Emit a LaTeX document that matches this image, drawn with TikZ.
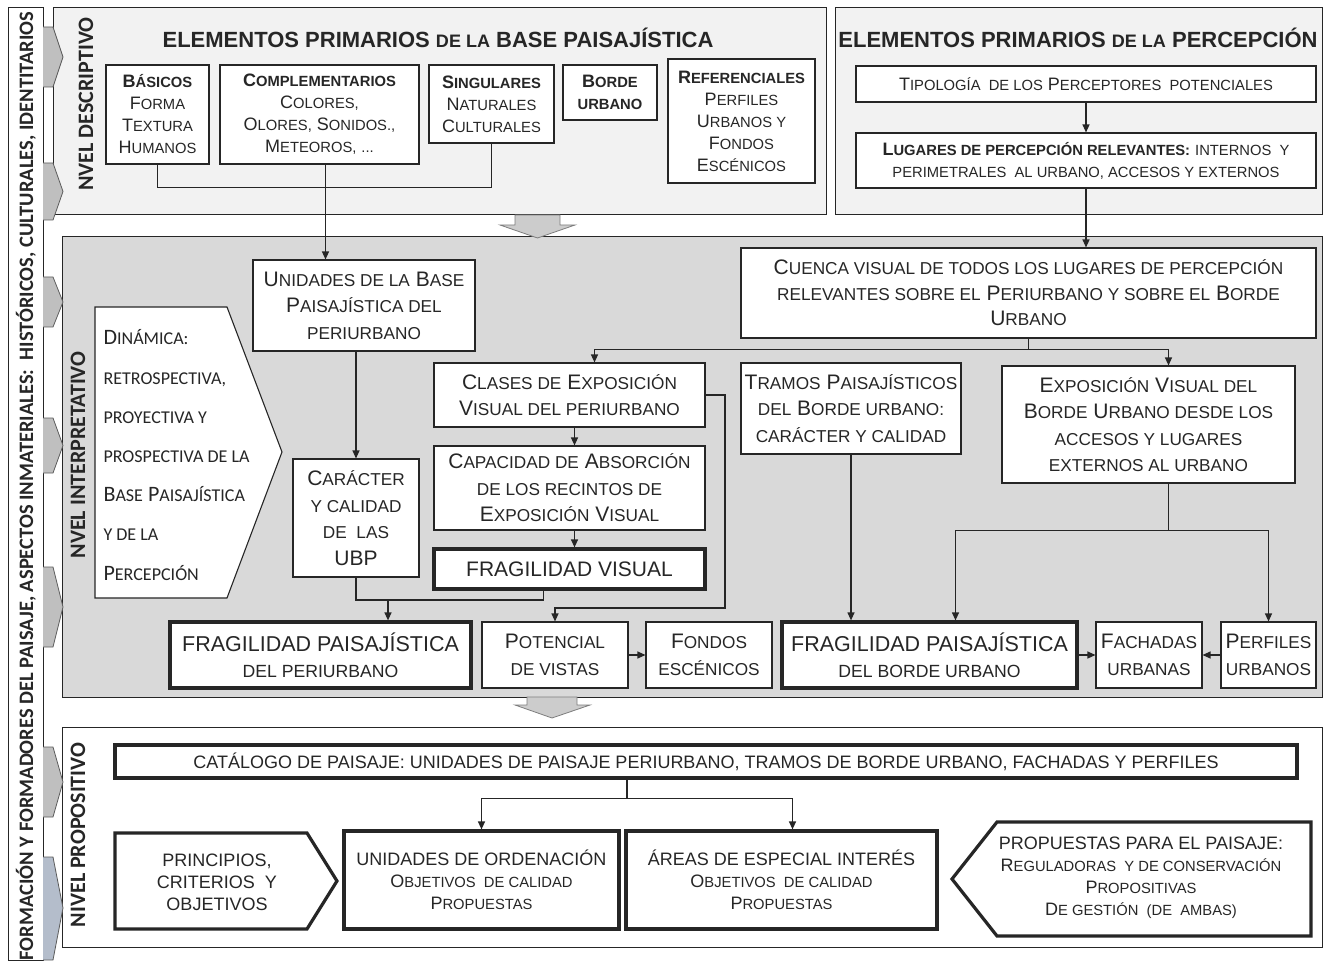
\documentclass[tikz,border=0pt]{standalone}
\usepackage{fontspec}
\setmainfont{Liberation Sans}
\newfontfamily\calfont{Carlito}
\usetikzlibrary{arrows.meta}
\definecolor{ink}{HTML}{262626}
\definecolor{panelgray}{HTML}{F2F2F2}
\definecolor{interpgray}{HTML}{D9D9D9}
\definecolor{arrowgray}{HTML}{BFBFBF}
\definecolor{arrowblue}{HTML}{B4BDCB}
% lower case letters as small capitals
\makeatletter
\newcommand\lsc[1]{{\fontsize{\strip@pt\dimexpr\f@size pt*82/100\relax}{\baselineskip}\selectfont\MakeUppercase{#1}}}
\makeatother

\begin{document}
\begin{tikzpicture}[x=1pt, y=-1pt,
    every node/.style={text=ink},
    box/.style={draw=ink, line width=1.1pt, fill=white, inner sep=0pt, align=center},
    boldbox/.style={box, line width=3.2pt},
    outline/.style={draw=ink, line width=1.1pt, fill=white},
    boldoutline/.style={outline, line width=3.2pt},
    link/.style={draw=ink, line width=1.2pt},
    arrow/.style={link, -{Triangle[length=8pt,width=7pt]}},
    descfont/.style={font=\fontsize{18}{22}\selectfont},
    intfont/.style={font=\fontsize{21}{26.5}\selectfont},
    propfont/.style={font=\fontsize{18}{22}\selectfont},
    levellabel/.style={rotate=90, font=\calfont\bfseries\fontsize{22}{22}\selectfont},
    sidearrow/.style={fill=arrowgray, draw=ink!75, line width=0.8pt},
    blockarrow/.style={fill=arrowgray!80, draw=ink!60, line width=0.8pt}]

    \useasboundingbox (0,0) rectangle (1325,965);

    % Level panels
    \filldraw[fill=panelgray, draw=ink, line width=1pt] (53,8) rectangle (826,215);
    \filldraw[fill=panelgray, draw=ink, line width=1pt] (835,8) rectangle (1322,215);
    \filldraw[fill=interpgray, draw=ink, line width=1pt] (62,237) rectangle (1322,697);
    \filldraw[fill=white, draw=ink, line width=1pt] (62,727) rectangle (1322,947);

    % Side strip
    \draw[ink, line width=1pt] (8,8) rectangle (43,960);
    \foreach \ya/\yb in {27/87, 163/220, 277/327, 418/473, 567/647, 747/817}
        \filldraw[sidearrow] (43,\ya) -- (53,\ya) -- (63,{(\ya+\yb)/2}) -- (53,\yb) -- (43,\yb);
    \filldraw[sidearrow, fill=arrowblue] (43,857) -- (53,857) -- (63,908) -- (53,960) -- (43,960);
    \node[rotate=90, font=\calfont\bfseries\fontsize{20.5}{20.5}\selectfont] (striplabel) at (26,486)
        {FORMACIÓN Y FORMADORES DEL PAISAJE, ASPECTOS INMATERIALES:\ \ HISTÓRICOS, CULTURALES, IDENTITARIOS};

    % Level labels
    \node[levellabel] (lvdesc) at (86,104) {NVEL DESCRIPTIVO};
    \node[levellabel] (lvint) at (78,455) {NVEL INTERPRETATIVO};
    \node[levellabel] (lvprop) at (78,835) {NIVEL PROPOSITIVO};

    % Block arrows between levels
    \filldraw[blockarrow] (515,215) -- (560,215) -- (560,225) -- (575,225) -- (537.5,238) -- (500,225) -- (515,225) -- cycle;
    \filldraw[blockarrow] (527,697) -- (577,697) -- (577,705) -- (590,705) -- (552,718) -- (515,705) -- (527,705) -- cycle;

    % Descriptive level
    \node[font=\bfseries\fontsize{22}{22}\selectfont] (titlebase) at (438,38) {ELEMENTOS PRIMARIOS \lsc{de la} BASE PAISAJÍSTICA};
    \node[font=\bfseries\fontsize{22}{22}\selectfont] (titleperc) at (1078,38) {ELEMENTOS PRIMARIOS \lsc{de la} PERCEPCIÓN};

    \node[box, descfont, minimum width=103pt, minimum height=99pt] (basicos) at (157.5,114.5)
        {\textbf{B\lsc{ásicos}}\\ F\lsc{orma}\\ T\lsc{extura}\\ H\lsc{umanos}};
    \node[box, descfont, minimum width=199pt, minimum height=99pt] (complem) at (319.5,114.5)
        {\textbf{C\lsc{omplementarios}}\\ C\lsc{olores,}\\ O\lsc{lores,}\ S\lsc{onidos.,}\\ M\lsc{eteoros,}\ \lsc{...}};
    \node[box, descfont, minimum width=125pt, minimum height=78pt] (singul) at (491.5,104)
        {\textbf{S\lsc{ingulares}}\\ N\lsc{aturales}\\ C\lsc{ulturales}};
    \node[box, descfont, minimum width=94pt, minimum height=55pt] (borde) at (610,92.5)
        {\textbf{B\lsc{orde}}\\ \textbf{\lsc{urbano}}};
    \node[box, descfont, minimum width=147pt, minimum height=124pt] (refer) at (741.5,121)
        {\textbf{R\lsc{eferenciales}}\\ P\lsc{erfiles}\\ U\lsc{rbanos y}\\ F\lsc{ondos}\\ E\lsc{scénicos}};

    \node[box, descfont, minimum width=460pt, minimum height=36pt] (tipol) at (1086,84)
        {T\lsc{ipología\ \ de los} P\lsc{erceptores\ \ potenciales}};
    \node[box, descfont, minimum width=460pt, minimum height=55pt] (lugares) at (1086,160.5)
        {\textbf{L\lsc{ugares de percepción relevantes:}} \lsc{internos\ \ y}\\ \lsc{perimetrales\ \ al urbano, accesos y externos}};

    % Interpretive level
    \node[box, intfont, minimum width=222pt, minimum height=91pt] (unidades) at (364,305.5)
        {U\lsc{nidades de la} B\lsc{ase}\\ P\lsc{aisajística del}\\ \lsc{periurbano}};
    \draw[outline] (95,307) -- (227,307) -- (282,452) -- (227,598) -- (95,598) -- cycle;
    \node[anchor=west, align=left, font=\calfont\fontsize{22}{39.2}\selectfont] (dinamica) at (100,455)
        {D\lsc{inámica:}\\ \lsc{retrospectiva,}\\ \lsc{proyectiva y}\\ \lsc{prospectiva de la}\\ B\lsc{ase} P\lsc{aisajística}\\ \lsc{y de la}\\ P\lsc{ercepción}};
    \node[box, intfont, minimum width=126pt, minimum height=118pt] (caracter) at (356,518)
        {C\lsc{arácter}\\ \lsc{y calidad}\\ \lsc{de\ \ las}\\ UBP};
    \node[box, intfont, minimum width=271pt, minimum height=64pt] (clases) at (569.5,395)
        {C\lsc{lases de} E\lsc{xposición}\\ V\lsc{isual del periurbano}};
    \node[box, intfont, minimum width=271pt, minimum height=84pt] (capac) at (569.5,488)
        {C\lsc{apacidad de} A\lsc{bsorción}\\ \lsc{de los recintos de}\\ E\lsc{xposición} V\lsc{isual}};
    \node[boldbox, intfont, minimum width=271pt, minimum height=40pt] (fragv) at (569.5,569) {FRAGILIDAD\ VISUAL};

    \node[box, intfont, minimum width=575pt, minimum height=90pt, font=\fontsize{21}{25.5}\selectfont] (cuenca) at (1028.5,293)
        {C\lsc{uenca visual de todos los lugares de percepción}\\ \lsc{relevantes sobre el} P\lsc{eriurbano y sobre el} B\lsc{orde}\\ U\lsc{rbano}};
    \node[box, intfont, minimum width=220pt, minimum height=91pt] (tramos) at (851,408.5)
        {T\lsc{ramos} P\lsc{aisajísticos}\\ \lsc{del} B\lsc{orde urbano:}\\ \lsc{carácter y calidad}};
    \node[box, intfont, minimum width=293pt, minimum height=117pt] (expos) at (1148.5,424.5)
        {E\lsc{xposición}\ V\lsc{isual del}\\ B\lsc{orde}\ U\lsc{rbano desde los}\\ \lsc{accesos y lugares}\\ \lsc{externos al urbano}};

    \node[boldbox, minimum width=301pt, minimum height=66pt, font=\fontsize{21.5}{26}\selectfont] (fpperi) at (320.5,655)
        {FRAGILIDAD\ PAISAJÍSTICA\\ \lsc{del periurbano}};
    \node[box, intfont, minimum width=146pt, minimum height=66pt] (potenc) at (555,655) {P\lsc{otencial}\\ \lsc{de vistas}};
    \node[box, intfont, minimum width=126pt, minimum height=66pt] (fondos) at (709,655) {F\lsc{ondos}\\ \lsc{escénicos}};
    \node[boldbox, minimum width=295pt, minimum height=66pt, font=\fontsize{21.5}{26}\selectfont] (fpborde) at (929.5,655)
        {FRAGILIDAD\ PAISAJÍSTICA\\ \lsc{del borde urbano}};
    \node[box, intfont, minimum width=106pt, minimum height=66pt] (fachadas) at (1149,655) {F\lsc{achadas}\\ \lsc{urbanas}};
    \node[box, intfont, minimum width=95pt, minimum height=66pt] (perfiles) at (1268.5,655) {P\lsc{erfiles}\\ \lsc{urbanos}};

    % Propositive level
    \node[boldbox, propfont, minimum width=1182pt, minimum height=33pt] (catal) at (706,761.5)
        {CATÁLOGO DE PAISAJE: UNIDADES\ DE PAISAJE PERIURBANO,\ TRAMOS DE BORDE URBANO,\ FACHADAS Y PERFILES};
    \draw[boldoutline] (115,833) -- (307,833) -- (337,881) -- (307,929) -- (115,929) -- cycle;
    \node[propfont, align=center] (princ) at (217,882) {PRINCIPIOS,\\ CRITERIOS\ \ Y\\ OBJETIVOS};
    \node[boldbox, propfont, minimum width=275pt, minimum height=98pt] (unord) at (481.5,880)
        {UNIDADES DE ORDENACIÓN\\ O\lsc{bjetivos\ \ de calidad}\\ P\lsc{ropuestas}};
    \node[boldbox, propfont, minimum width=311pt, minimum height=98pt] (areas) at (781.5,880)
        {ÁREAS DE ESPECIAL INTERÉS\\ O\lsc{bjetivos\ \ de calidad}\\ P\lsc{ropuestas}};
    \draw[boldoutline] (1311,822) -- (997,822) -- (952,879) -- (997,936) -- (1311,936) -- cycle;
    \node[propfont, align=center] (propu) at (1141,878)
        {PROPUESTAS PARA EL PAISAJE:\\ R\lsc{eguladoras\ \ y de conservación}\\ P\lsc{ropositivas}\\ D\lsc{e gestión\ \ (de\ \ ambas)}};

    % Connectors, descriptive level
    \draw[link] (basicos.south) -- ++(0,23) -| (singul.south);
    \draw[arrow] ([xshift=6pt]complem.south) -- ([xshift=6pt]complem.south |- unidades.north);
    \draw[arrow] (tipol.south) -- (lugares.north);
    \draw[arrow] (lugares.south) -- (lugares.south |- cuenca.north);

    % Connectors, interpretive level
    \draw[link] (cuenca.south) -- ++(0,11) coordinate (cuejoin);
    \draw[arrow] (cuejoin) -| ([xshift=25pt]clases.north);
    \draw[arrow] (cuejoin) -| ([xshift=20pt]expos.north);
    \draw[arrow] (unidades.south -| caracter.north) -- (caracter.north);
    \draw[arrow] ([xshift=5pt]clases.south) -- ([xshift=5pt]capac.north);
    \draw[arrow] ([xshift=5pt]capac.south) -- ([xshift=5pt]fragv.north);
    \coordinate (vistasbend) at (725,608);
    \draw[arrow] (clases.east) -| (vistasbend) -| (potenc.north);
    \coordinate (perijoin) at (388,600);
    \draw[link] (caracter.south) |- (perijoin) -| ([xshift=-26pt]fragv.south);
    \draw[arrow] (perijoin) -- (perijoin |- fpperi.north);
    \draw[arrow] (tramos.south) -- (tramos.south |- fpborde.north);
    \draw[link] ([xshift=20pt]expos.south) -- ++(0,47) coordinate (expjoin);
    \draw[arrow] (expjoin) -| ([xshift=26pt]fpborde.north);
    \draw[arrow] (expjoin) -| (perfiles.north);
    \draw[arrow] (potenc) -- (fondos);
    \draw[arrow] (fpborde) -- (fachadas);
    \draw[arrow] (perfiles) -- (fachadas);

    % Connectors, propositive level
    \draw[link] ([xshift=-79pt]catal.south) -- ++(0,19) coordinate (catjoin);
    \draw[arrow] (catjoin) -| (unord.north);
    \draw[arrow] (catjoin) -| ([xshift=11pt]areas.north);

\end{tikzpicture}
\end{document}
